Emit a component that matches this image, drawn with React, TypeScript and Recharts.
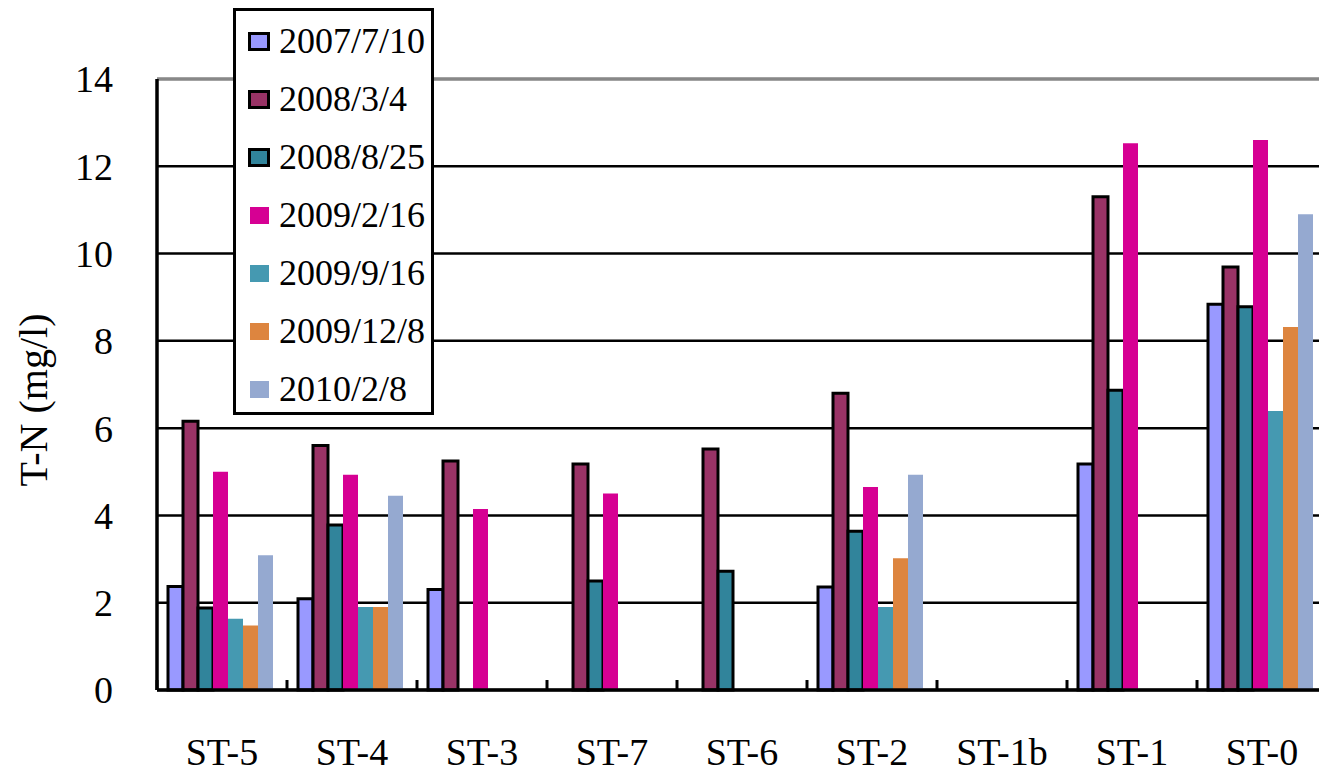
import React from "react";
import {
  BarChart,
  Bar,
  XAxis,
  YAxis,
  CartesianGrid,
  ReferenceLine,
  Legend,
  Label,
} from "recharts";

// stations along the x axis
const stations = ["ST-5", "ST-4", "ST-3", "ST-7", "ST-6", "ST-2", "ST-1b", "ST-1", "ST-0"];

// sampling dates (legend order)
const dates = ["2007/7/10", "2008/3/4", "2008/8/25", "2009/2/16", "2009/9/16", "2009/12/8", "2010/2/8"];

// T-N values (mg/l) per date, one per station; null = not sampled
const tn_20070710 = [2.37, 2.09, 2.3, null, null, 2.36, null, 5.18, 8.84];
const tn_20080304 = [6.16, 5.6, 5.25, 5.18, 5.52, 6.8, null, 11.3, 9.69];
const tn_20080825 = [1.88, 3.78, null, 2.5, 2.72, 3.64, null, 6.87, 8.78];
const tn_20090216 = [5.0, 4.93, 4.15, 4.5, null, 4.65, null, 12.53, 12.6];
const tn_20090916 = [1.63, 1.9, null, null, null, 1.9, null, null, 6.39];
const tn_20091208 = [1.48, 1.9, null, null, null, 3.02, null, null, 8.32];
const tn_20100208 = [3.09, 4.45, null, null, null, 4.93, null, null, 10.9];

const yTicks = [0, 2, 4, 6, 8, 10, 12, 14];

const series = [
  { key: "d0", name: dates[0], values: tn_20070710, color: "#9999FF", outlined: true },
  { key: "d1", name: dates[1], values: tn_20080304, color: "#993366", outlined: true },
  { key: "d2", name: dates[2], values: tn_20080825, color: "#31849B", outlined: true },
  { key: "d3", name: dates[3], values: tn_20090216, color: "#D60093", outlined: false },
  { key: "d4", name: dates[4], values: tn_20090916, color: "#4599B1", outlined: false },
  { key: "d5", name: dates[5], values: tn_20091208, color: "#DD853F", outlined: false },
  { key: "d6", name: dates[6], values: tn_20100208, color: "#95A9D0", outlined: false },
];

const data = stations.map((station, i) => {
  const row: Record<string, any> = { station };
  series.forEach((s) => {
    row[s.key] = s.values[i];
  });
  return row;
});

const FONT = '"Liberation Serif", "Times New Roman", serif';
const CHART_W = 1330;
const CHART_H = 774;
const PLOT_LEFT = 157;
const PLOT_TOP = 79;
const X_AXIS_H = 84;
const PLOT_W = 1170;
const PLOT_BOTTOM = CHART_H - X_AXIS_H;
const BAND = PLOT_W / stations.length;

const XTick = ({ x, payload }: any) => (
  <g>
    <line
      x1={x - BAND / 2}
      x2={x - BAND / 2}
      y1={PLOT_BOTTOM - 10}
      y2={PLOT_BOTTOM}
      stroke="#000"
      strokeWidth={3}
    />
    <text x={x} y={765} textAnchor="middle" fontFamily={FONT} fontSize={38} fill="#000">
      {payload.value}
    </text>
  </g>
);

const LegendBox = () => (
  <div
    style={{
      boxSizing: "border-box",
      width: 201,
      height: 407,
      border: "3px solid #000",
      background: "#fff",
      paddingTop: 1,
      fontFamily: FONT,
    }}
  >
    {series.map((s) => (
      <div key={s.key} style={{ height: 58, display: "flex", alignItems: "center" }}>
        <span
          style={{
            boxSizing: "border-box",
            display: "inline-block",
            marginLeft: s.outlined ? 12 : 14,
            marginRight: s.outlined ? 9 : 10,
            width: s.outlined ? 22 : 19,
            height: s.outlined ? 19 : 17,
            background: s.color,
            border: s.outlined ? "3px solid #000" : "none",
          }}
        />
        <span style={{ fontSize: 36, color: "#000", lineHeight: 1 }}>{s.name}</span>
      </div>
    ))}
  </div>
);

export default function App() {
  return (
    <>
      <style>{`body{margin:0;overflow:hidden;background:#fff}`}</style>
      <div style={{ width: 1319, height: CHART_H, overflow: "hidden", position: "relative" }}>
        <BarChart
          width={CHART_W}
          height={CHART_H}
          data={data}
          margin={{ top: PLOT_TOP, right: CHART_W - PLOT_LEFT - PLOT_W, bottom: 0, left: 0 }}
          barCategoryGap={11}
          barGap={0}
        >
          <CartesianGrid vertical={false} stroke="#000" strokeWidth={2.5} />
          <ReferenceLine y={14} stroke="#888888" strokeWidth={3} />
          <XAxis
            dataKey="station"
            height={X_AXIS_H}
            interval={0}
            tickLine={false}
            axisLine={{ stroke: "#000", strokeWidth: 3.5 }}
            tick={<XTick />}
          />
          <YAxis
            width={PLOT_LEFT}
            domain={[0, 14]}
            ticks={yTicks}
            tickSize={0}
            tickMargin={44}
            tickLine={false}
            axisLine={{ stroke: "#000", strokeWidth: 3.5 }}
            tick={{ fontFamily: FONT, fontSize: 38, fill: "#000" }}
          >
            <Label
              content={() => (
                <text
                  x={47}
                  y={400}
                  transform="rotate(-90 47 400)"
                  textAnchor="middle"
                  fontFamily={FONT}
                  fontSize={40}
                  fill="#000"
                >
                  T-N (mg/l)
                </text>
              )}
            />
          </YAxis>
          <Legend
            layout="vertical"
            align="center"
            verticalAlign="middle"
            wrapperStyle={{ left: 233, top: 8, width: 201, height: 407 }}
            content={<LegendBox />}
          />
          {series.map((s) => (
            <Bar
              key={s.key}
              dataKey={s.key}
              name={s.name}
              fill={s.color}
              stroke={s.outlined ? "#000" : "none"}
              strokeWidth={s.outlined ? 3 : 0}
              isAnimationActive={false}
            />
          ))}
        </BarChart>
      </div>
    </>
  );
}
